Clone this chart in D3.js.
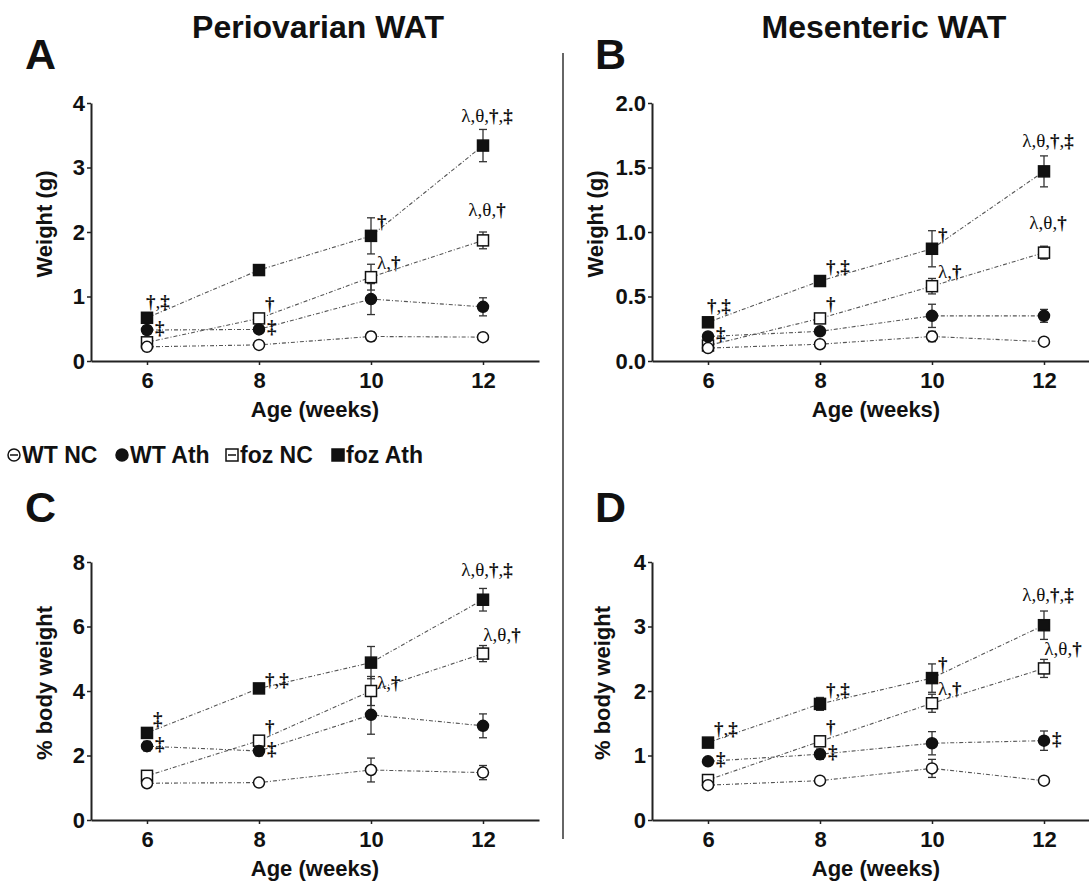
<!DOCTYPE html>
<html>
<head>
<meta charset="utf-8">
<script src="https://cdn.jsdelivr.net/npm/d3@7"></script>
<style>
    body { margin: 0; background: #fff; }
    text { font-family: "Liberation Sans", Arial, sans-serif; fill: #111; }
    .axis path, .axis line { stroke: #222; }
    .axis path { stroke-width: 2px; }
    .axis line { stroke-width: 1.5px; }
    .axis text { font-size: 22px; font-weight: bold; fill: #111; }
    .note { font-family: "Liberation Serif", "Times New Roman", serif; font-size: 19px; }
</style>
</head>
<body>
<div id="chart"></div>
<script>

// ---- data ----
let weeks = [6, 8, 10, 12];
let seriesNames = ["WT NC", "WT Ath", "foz NC", "foz Ath"];

// A: periovarian WAT, grams (rows follow seriesNames)
let periGramMean = [
    [0.22, 0.25, 0.38, 0.37],
    [0.48, 0.49, 0.96, 0.84],
    [0.29, 0.66, 1.30, 1.87],
    [0.67, 1.41, 1.94, 3.34]
];
let periGramSem = [
    [0.02, 0.02, 0.07, 0.03],
    [0.03, 0.04, 0.24, 0.14],
    [0.04, 0.06, 0.20, 0.13],
    [0.05, 0.06, 0.28, 0.25]
];

// B: mesenteric WAT, grams
let mesGramMean = [
    [0.10, 0.13, 0.19, 0.15],
    [0.19, 0.23, 0.35, 0.35],
    [0.12, 0.33, 0.58, 0.84],
    [0.30, 0.62, 0.87, 1.47]
];
let mesGramSem = [
    [0.01, 0.01, 0.04, 0.02],
    [0.02, 0.02, 0.09, 0.05],
    [0.02, 0.03, 0.06, 0.05],
    [0.02, 0.04, 0.14, 0.12]
];

// C: periovarian WAT, % body weight
let periPctMean = [
    [1.14, 1.16, 1.55, 1.47],
    [2.29, 2.14, 3.26, 2.92],
    [1.37, 2.46, 4.00, 5.16],
    [2.70, 4.08, 4.88, 6.83]
];
let periPctSem = [
    [0.08, 0.08, 0.37, 0.22],
    [0.15, 0.15, 0.60, 0.37],
    [0.10, 0.15, 0.45, 0.25],
    [0.15, 0.10, 0.50, 0.35]
];

// D: mesenteric WAT, % body weight
let mesPctMean = [
    [0.54, 0.61, 0.80, 0.61],
    [0.91, 1.02, 1.19, 1.23],
    [0.62, 1.22, 1.81, 2.35],
    [1.20, 1.80, 2.20, 3.02]
];
let mesPctSem = [
    [0.03, 0.03, 0.14, 0.03],
    [0.04, 0.08, 0.18, 0.15],
    [0.03, 0.08, 0.14, 0.14],
    [0.04, 0.10, 0.22, 0.22]
];

// significance marks: [series index, week, text, placement]
let periGramNotes = [
    [3, 12, "λ,θ,†,‡", "above"], [2, 12, "λ,θ,†", "above"],
    [3, 10, "†", "upRight"], [2, 10, "λ,†", "upRight"],
    [3, 6, "†,‡", "up"], [2, 8, "†", "upRight"],
    [1, 6, "‡", "right"], [1, 8, "‡", "right"]
];
let mesGramNotes = [
    [3, 12, "λ,θ,†,‡", "above"], [2, 12, "λ,θ,†", "above"],
    [3, 10, "†", "upRight"], [2, 10, "λ,†", "upRight"],
    [3, 8, "†,‡", "upRight"], [2, 8, "†", "upRight"],
    [3, 6, "†,‡", "up"], [1, 6, "‡", "right"]
];
let periPctNotes = [
    [3, 12, "λ,θ,†,‡", "above"], [2, 12, "λ,θ,†", "aboveRight"],
    [2, 10, "λ,†", "side"], [3, 8, "†,‡", "side"],
    [2, 8, "†", "upRight"], [3, 6, "‡", "upRight"],
    [1, 6, "‡", "right"], [1, 8, "‡", "right"]
];
let mesPctNotes = [
    [3, 12, "λ,θ,†,‡", "above"], [2, 12, "λ,θ,†", "aboveRight"],
    [3, 10, "†", "upRight"], [2, 10, "λ,†", "upRight"],
    [3, 8, "†,‡", "upRight"], [2, 8, "†", "upRight"],
    [3, 6, "†,‡", "upRight"], [1, 6, "‡", "right"],
    [1, 8, "‡", "right"], [1, 12, "‡", "right"]
];


// ---- drawing ----
let svg = d3.select("#chart").append("svg")
    .attr("width", 1089)
    .attr("height", 884);

// open/filled, circle/square for each series
let markerKind = [
    {shape: "circle", filled: false},
    {shape: "circle", filled: true},
    {shape: "square", filled: false},
    {shape: "square", filled: true}
];

let placements = {
    above:      {anchor: "middle", dx: 4,  dy: -24},
    aboveRight: {anchor: "middle", dx: 19, dy: -13},
    upRight:    {anchor: "start",  dx: 6,  dy: -8},
    up:         {anchor: "start",  dx: -1, dy: -10},
    side:       {anchor: "start",  dx: 6,  dy: -2},
    right:      {anchor: "start",  dx: 8,  dy: 4}
};

function drawMarker(g, kind, cx, cy, size) {
    let fill = kind.filled ? "#111" : "#fff";
    if (kind.shape === "circle") {
        g.append("circle")
            .attr("cx", cx).attr("cy", cy).attr("r", size / 2)
            .attr("fill", fill).attr("stroke", "#111").attr("stroke-width", 1.5);
    } else {
        g.append("rect")
            .attr("x", cx - size / 2).attr("y", cy - size / 2)
            .attr("width", size).attr("height", size)
            .attr("fill", fill).attr("stroke", "#111").attr("stroke-width", 1.5);
    }
}

class LineVis {

    constructor(cfg) {
        this.cfg = cfg;
        this.initVis();
    }

    initVis() {
        let vis = this;
        let c = vis.cfg;

        vis.g = svg.append("g");

        vis.x = d3.scaleLinear().domain([5, 13]).range([c.left, c.left + 448]);
        vis.y = d3.scaleLinear().domain([0, c.yMax]).range([c.bottom, c.top]);

        vis.xAxis = d3.axisBottom(vis.x)
            .tickValues(weeks)
            .tickSize(4).tickSizeOuter(0).tickPadding(7)
            .tickFormat(d3.format("d"));
        vis.yAxis = d3.axisLeft(vis.y)
            .ticks(4)
            .tickSize(4).tickSizeOuter(0).tickPadding(2)
            .tickFormat(c.fmt);

        vis.g.append("g")
            .attr("class", "axis x-axis")
            .attr("transform", `translate(0, ${c.bottom})`)
            .call(vis.xAxis);
        vis.g.append("g")
            .attr("class", "axis y-axis")
            .attr("transform", `translate(${c.left}, 0)`)
            .call(vis.yAxis);

        // axis titles
        vis.g.append("text")
            .attr("x", c.left + 224)
            .attr("y", c.bottom + 56)
            .attr("text-anchor", "middle")
            .style("font-size", "22px").style("font-weight", "bold")
            .text("Age (weeks)");
        vis.g.append("text")
            .attr("transform", `translate(${c.yLabelX}, ${(c.top + c.bottom) / 2 - 8}) rotate(-90)`)
            .attr("text-anchor", "middle")
            .style("font-size", "22px").style("font-weight", "bold")
            .text(c.yLabel);

        // panel letter
        vis.g.append("text")
            .attr("x", c.letterX).attr("y", c.letterY)
            .style("font-size", "43px").style("font-weight", "bold")
            .text(c.letter);

        vis.updateVis();
    }

    updateVis() {
        let vis = this;
        let c = vis.cfg;

        let line = d3.line()
            .x((d, i) => vis.x(weeks[i]))
            .y(d => vis.y(d));

        // dash-dot connecting lines
        vis.g.selectAll(".series-line")
            .data(c.mean)
            .enter().append("path")
            .attr("class", "series-line")
            .attr("d", d => line(d))
            .attr("fill", "none")
            .attr("stroke", "#555")
            .attr("stroke-width", 1.1)
            .attr("stroke-dasharray", "4,2,1,2");

        // error bars
        c.mean.forEach((row, s) => {
            row.forEach((m, i) => {
                let e = c.sem[s][i];
                let xp = vis.x(weeks[i]);
                let eg = vis.g.append("g").attr("stroke", "#333").attr("stroke-width", 1.3);
                eg.append("line")
                    .attr("x1", xp).attr("x2", xp)
                    .attr("y1", vis.y(m - e)).attr("y2", vis.y(m + e));
                [m - e, m + e].forEach(v => {
                    eg.append("line")
                        .attr("x1", xp - 4).attr("x2", xp + 4)
                        .attr("y1", vis.y(v)).attr("y2", vis.y(v));
                });
            });
        });

        // markers, WT NC drawn last so it stays on top like the original
        [3, 2, 1, 0].forEach(s => {
            c.mean[s].forEach((m, i) => {
                drawMarker(vis.g, markerKind[s], vis.x(weeks[i]), vis.y(m), 11);
            });
        });

        // significance marks
        c.notes.forEach(n => {
            let s = n[0], wk = n[1], txt = n[2], p = placements[n[3]];
            let m = c.mean[s][weeks.indexOf(wk)];
            let t = vis.g.append("text")
                .attr("class", "note")
                .attr("x", vis.x(wk) + p.dx)
                .attr("y", vis.y(m) + p.dy)
                .attr("text-anchor", p.anchor);
            Array.from(txt).forEach(ch => {
                t.append("tspan")
                    .style("font-weight", (ch === "†" || ch === "‡") ? "bold" : "normal")
                    .text(ch);
            });
        });
    }
}

let fmtInt = d3.format("d");

new LineVis({letter: "A", letterX: 25, letterY: 69, left: 91, top: 103, bottom: 361,
    yMax: 4, fmt: fmtInt, yLabel: "Weight (g)", yLabelX: 52,
    mean: periGramMean, sem: periGramSem, notes: periGramNotes});
new LineVis({letter: "B", letterX: 595, letterY: 69, left: 652, top: 103, bottom: 361,
    yMax: 2, fmt: d3.format(".1f"), yLabel: "Weight (g)", yLabelX: 603,
    mean: mesGramMean, sem: mesGramSem, notes: mesGramNotes});
new LineVis({letter: "C", letterX: 25, letterY: 522, left: 91, top: 562, bottom: 820,
    yMax: 8, fmt: fmtInt, yLabel: "% body weight", yLabelX: 52,
    mean: periPctMean, sem: periPctSem, notes: periPctNotes});
new LineVis({letter: "D", letterX: 595, letterY: 522, left: 652, top: 562, bottom: 820,
    yMax: 4, fmt: fmtInt, yLabel: "% body weight", yLabelX: 610,
    mean: mesPctMean, sem: mesPctSem, notes: mesPctNotes});

// column titles
svg.append("text")
    .attr("x", 318).attr("y", 38)
    .attr("text-anchor", "middle")
    .style("font-size", "32px").style("font-weight", "bold")
    .text("Periovarian WAT");
svg.append("text")
    .attr("x", 884).attr("y", 38)
    .attr("text-anchor", "middle")
    .style("font-size", "32px").style("font-weight", "bold")
    .text("Mesenteric WAT");

// divider
svg.append("line")
    .attr("x1", 563).attr("x2", 563)
    .attr("y1", 53).attr("y2", 839)
    .attr("stroke", "#333").attr("stroke-width", 1.5);

// legend
let legendX = [14, 122, 232, 338];
let legend = svg.append("g");
seriesNames.forEach((name, s) => {
    let cx = legendX[s];
    drawMarker(legend, markerKind[s], cx, 455, 12);
    if (!markerKind[s].filled) {
        legend.append("line")
            .attr("x1", cx - 4).attr("x2", cx + 4)
            .attr("y1", 455).attr("y2", 455)
            .attr("stroke", "#111").attr("stroke-width", 1.5);
    }
    legend.append("text")
        .attr("x", cx + 8).attr("y", 463)
        .style("font-size", "23px").style("font-weight", "bold")
        .text(name);
});

</script>
</body>
</html>
